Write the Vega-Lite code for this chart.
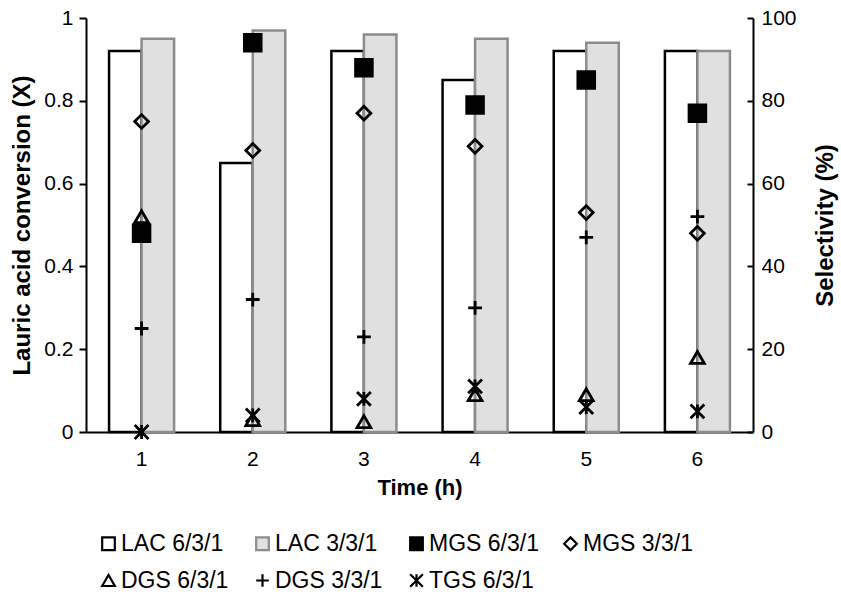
{
  "$schema": "https://vega.github.io/schema/vega-lite/v6.json",
  "width": 667,
  "height": 414,
  "autosize": {"type": "none"},
  "padding": {"left": 86, "top": 18, "right": 88, "bottom": 164},
  "background": "white",
  "config": {
    "font": "Liberation Sans",
    "view": {"stroke": null},
    "axis": {
      "domainColor": "black",
      "domainWidth": 2,
      "tickColor": "black",
      "tickWidth": 2,
      "labelColor": "black",
      "titleColor": "black",
      "labelFontSize": 21,
      "titleFontSize": 22,
      "titleFontWeight": "bold",
      "grid": false,
      "labelFont": "Liberation Sans",
      "titleFont": "Liberation Sans"
    }
  },
  "datasets": {
    "conv": [
      {"time": "1", "series": "LAC 6/3/1", "value": 0.92},
      {"time": "1", "series": "LAC 3/3/1", "value": 0.95},
      {"time": "2", "series": "LAC 6/3/1", "value": 0.65},
      {"time": "2", "series": "LAC 3/3/1", "value": 0.97},
      {"time": "3", "series": "LAC 6/3/1", "value": 0.92},
      {"time": "3", "series": "LAC 3/3/1", "value": 0.96},
      {"time": "4", "series": "LAC 6/3/1", "value": 0.85},
      {"time": "4", "series": "LAC 3/3/1", "value": 0.95},
      {"time": "5", "series": "LAC 6/3/1", "value": 0.92},
      {"time": "5", "series": "LAC 3/3/1", "value": 0.94},
      {"time": "6", "series": "LAC 6/3/1", "value": 0.92},
      {"time": "6", "series": "LAC 3/3/1", "value": 0.92}
    ],
    "sel": [
      {"time": "1", "series": "MGS 3/3/1", "value": 75},
      {"time": "2", "series": "MGS 3/3/1", "value": 68},
      {"time": "3", "series": "MGS 3/3/1", "value": 77},
      {"time": "4", "series": "MGS 3/3/1", "value": 69},
      {"time": "5", "series": "MGS 3/3/1", "value": 53},
      {"time": "6", "series": "MGS 3/3/1", "value": 48},
      {"time": "1", "series": "DGS 6/3/1", "value": 52},
      {"time": "2", "series": "DGS 6/3/1", "value": 3},
      {"time": "3", "series": "DGS 6/3/1", "value": 2.5},
      {"time": "4", "series": "DGS 6/3/1", "value": 9},
      {"time": "5", "series": "DGS 6/3/1", "value": 9},
      {"time": "6", "series": "DGS 6/3/1", "value": 18},
      {"time": "1", "series": "DGS 3/3/1", "value": 25},
      {"time": "2", "series": "DGS 3/3/1", "value": 32},
      {"time": "3", "series": "DGS 3/3/1", "value": 23},
      {"time": "4", "series": "DGS 3/3/1", "value": 30},
      {"time": "5", "series": "DGS 3/3/1", "value": 47},
      {"time": "6", "series": "DGS 3/3/1", "value": 52},
      {"time": "1", "series": "TGS 6/3/1", "value": 0},
      {"time": "2", "series": "TGS 6/3/1", "value": 4},
      {"time": "3", "series": "TGS 6/3/1", "value": 8},
      {"time": "4", "series": "TGS 6/3/1", "value": 11},
      {"time": "5", "series": "TGS 6/3/1", "value": 6},
      {"time": "6", "series": "TGS 6/3/1", "value": 5},
      {"time": "1", "series": "MGS 6/3/1", "value": 48},
      {"time": "2", "series": "MGS 6/3/1", "value": 94},
      {"time": "3", "series": "MGS 6/3/1", "value": 88},
      {"time": "4", "series": "MGS 6/3/1", "value": 79},
      {"time": "5", "series": "MGS 6/3/1", "value": 85},
      {"time": "6", "series": "MGS 6/3/1", "value": 77}
    ]
  },
  "layer": [
    {
      "data": {"name": "conv"},
      "mark": {"type": "bar", "strokeWidth": 2.5},
      "encoding": {
        "x": {
          "field": "time",
          "type": "ordinal",
          "scale": {"paddingInner": 0.415, "paddingOuter": 0.2075},
          "axis": {"title": "Time (h)", "labelAngle": 0, "ticks": false, "labelPadding": 16, "titlePadding": 8}
        },
        "xOffset": {
          "field": "series",
          "type": "nominal",
          "scale": {"domain": ["LAC 6/3/1", "LAC 3/3/1"], "paddingInner": 0, "paddingOuter": 0}
        },
        "y": {
          "field": "value",
          "type": "quantitative",
          "scale": {"domain": [0, 1], "nice": false},
          "axis": {
            "title": "Lauric acid conversion (X)",
            "titleFontSize": 24,
            "values": [0, 0.2, 0.4, 0.6, 0.8, 1],
            "format": "~g",
            "tickSize": 7,
            "labelPadding": 6,
            "titlePadding": 9,
            "orient": "left"
          }
        },
        "fill": {
          "field": "series",
          "type": "nominal",
          "scale": {
            "domain": ["LAC 6/3/1", "LAC 3/3/1", "MGS 6/3/1", "MGS 3/3/1", "DGS 6/3/1", "DGS 3/3/1", "TGS 6/3/1"],
            "range": ["white", "#e0e0e0", "black", "transparent", "transparent", "transparent", "transparent"]
          },
          "legend": {
            "title": null,
            "orient": "none",
            "legendX": 11,
            "legendY": 514,
            "direction": "horizontal",
            "columns": 4,
            "gridAlign": "all",
            "columnPadding": 20,
            "rowPadding": 13,
            "labelFontSize": 23,
            "labelColor": "black",
            "labelOffset": 1,
            "symbolSize": 160,
            "symbolStrokeWidth": 2.2
          }
        },
        "stroke": {
          "field": "series",
          "type": "nominal",
          "scale": {
            "domain": ["LAC 6/3/1", "LAC 3/3/1", "MGS 6/3/1", "MGS 3/3/1", "DGS 6/3/1", "DGS 3/3/1", "TGS 6/3/1"],
            "range": ["black", "#8c8c8c", "black", "black", "black", "black", "black"]
          }
        }
      }
    },
    {
      "data": {"name": "sel"},
      "mark": {"type": "point", "filled": true, "opacity": 1, "strokeWidth": 2.8},
      "encoding": {
        "x": {"field": "time", "type": "ordinal"},
        "y": {
          "field": "value",
          "type": "quantitative",
          "scale": {"domain": [0, 100], "nice": false},
          "axis": {
            "title": "Selectivity (%)",
            "titleFontSize": 24,
            "orient": "right",
            "values": [0, 20, 40, 60, 80, 100],
            "tickSize": -6,
            "labelPadding": 14,
            "titlePadding": 41,
            "titleAngle": 270
          }
        },
        "fill": {"field": "series", "type": "nominal"},
        "stroke": {"field": "series", "type": "nominal"},
        "shape": {
          "field": "series",
          "type": "nominal",
          "scale": {
            "domain": ["LAC 6/3/1", "LAC 3/3/1", "MGS 6/3/1", "MGS 3/3/1", "DGS 6/3/1", "DGS 3/3/1", "TGS 6/3/1"],
            "range": ["square", "square", "square", "diamond", "triangle-up", "M-1,0H1M0,-1V1", "M-1,-1L1,1M-1,1L1,-1M0,-1V1"]
          }
        },
        "size": {
          "condition": {"test": "datum.series === 'MGS 6/3/1'", "value": 280},
          "value": 190
        }
      }
    }
  ],
  "resolve": {"scale": {"y": "independent"}}
}
